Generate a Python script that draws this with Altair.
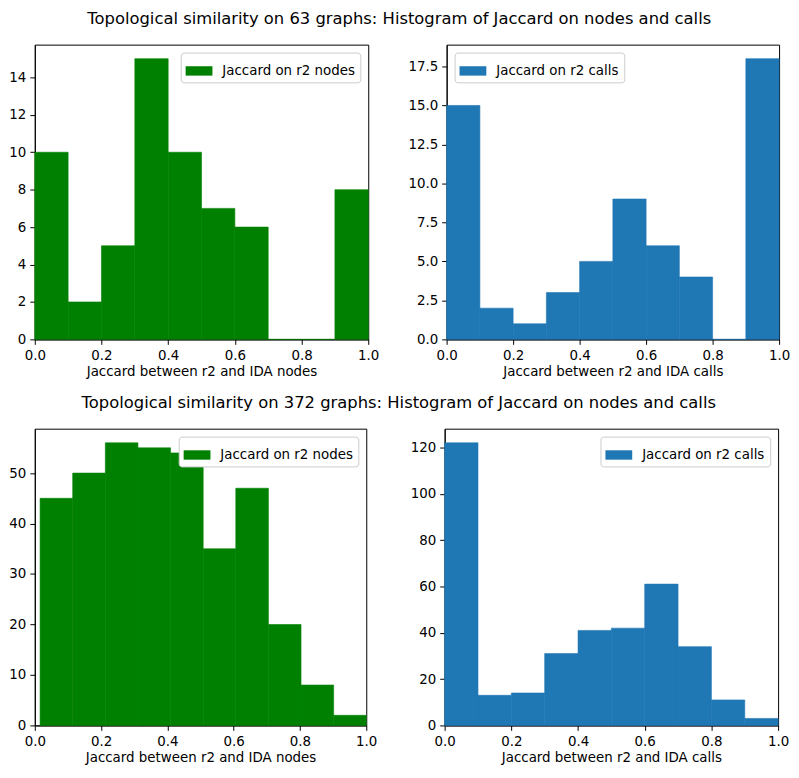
import altair as alt
import pandas as pd

FONT = "DejaVu Sans"

edges_top = [0.0, 0.1, 0.2, 0.3, 0.4, 0.5, 0.6, 0.7, 0.8, 0.9, 1.0]
edges_bl = [0.016, 0.1144, 0.2128, 0.3112, 0.4096, 0.508, 0.6064, 0.7048, 0.8032, 0.9016, 1.0]
edges_br = [0.0, 0.1, 0.2, 0.3, 0.4, 0.5, 0.6, 0.7, 0.8, 0.9, 1.0]

counts_nodes_63 = [10, 2, 5, 15, 10, 7, 6, 0, 0, 8]
counts_calls_63 = [15, 2, 1, 3, 5, 9, 6, 4, 0, 18]
counts_nodes_372 = [45, 50, 56, 55, 54, 35, 47, 20, 8, 2]
counts_calls_372 = [122, 13, 14, 31, 41, 42, 61, 34, 11, 3]

title_63 = "Topological similarity on 63 graphs: Histogram of Jaccard on nodes and calls"
title_372 = "Topological similarity on 372 graphs: Histogram of Jaccard on nodes and calls"

GREEN = "#008000"
BLUE = "#1f77b4"

FS = 13.5
TFS = 16.5


def frame(edges, counts, label):
    return pd.DataFrame({
        "lo": edges[:-1],
        "hi": edges[1:],
        "count": counts,
        "series": [label] * len(counts),
    })


def panel(edges, counts, label, color, xtitle, ymax, ystep, yfmt, legend_orient, w, h):
    df = frame(edges, counts, label)
    yticks = []
    v = 0.0
    while v <= ymax + 1e-9:
        yticks.append(round(v, 3))
        v += ystep
    return alt.Chart(df).mark_rect(stroke=color, strokeWidth=0.6).encode(
        x=alt.X("lo:Q", scale=alt.Scale(domain=[0, 1], nice=False, zero=False),
                axis=alt.Axis(title=xtitle, values=[0, 0.2, 0.4, 0.6, 0.8, 1.0], format=".1f",
                              grid=False, labelFlush=False)),
        x2="hi:Q",
        y=alt.Y("count:Q", scale=alt.Scale(domain=[0, ymax], nice=False),
                axis=alt.Axis(title=None, values=yticks, format=yfmt, grid=False)),
        y2=alt.datum(0),
        color=alt.Color("series:N", scale=alt.Scale(range=[color]),
                        legend=alt.Legend(
                            title=None, orient=legend_orient, offset=8,
                            symbolType="M-1,-0.35L1,-0.35L1,0.35L-1,0.35Z",
                            symbolSize=729, symbolStrokeWidth=0, symbolOpacity=1,
                            labelFontSize=FS, labelFont=FONT, labelColor="black",
                            fillColor="white", strokeColor="#cccccc", cornerRadius=3,
                            padding=5, labelOffset=10)),
    ).properties(width=w, height=h)


tl = panel(edges_top, counts_nodes_63, "Jaccard on r2 nodes", GREEN,
           "Jaccard between r2 and IDA nodes", 15.75, 2, "d", "top-right", 336, 297)
tr = panel(edges_top, counts_calls_63, "Jaccard on r2 calls", BLUE,
           "Jaccard between r2 and IDA calls", 18.9, 2.5, ".1f", "top-left", 335, 297)
bl = panel(edges_bl, counts_nodes_372, "Jaccard on r2 nodes", GREEN,
           "Jaccard between r2 and IDA nodes", 58.8, 10, "d", "top-right", 334, 299)
br = panel(edges_br, counts_calls_372, "Jaccard on r2 calls", BLUE,
           "Jaccard between r2 and IDA calls", 128.1, 20, "d", "top-right", 336, 299)

row1 = alt.hconcat(tl, tr, spacing=27).resolve_scale(color="independent").properties(
    title=alt.TitleParams(title_63, anchor="middle", fontSize=TFS, font=FONT,
                          fontWeight="normal", color="black", offset=17))
row2 = alt.hconcat(bl, br, spacing=31).resolve_scale(color="independent").properties(
    title=alt.TitleParams(title_372, anchor="middle", fontSize=TFS, font=FONT,
                          fontWeight="normal", color="black", offset=17))

chart = alt.vconcat(row1, row2, spacing=16).resolve_scale(color="independent").properties(
    background="white", padding=0
).configure_view(
    stroke="black", strokeWidth=1
).configure_axis(
    domainColor="black", tickColor="black", labelColor="black", titleColor="black",
    labelFont=FONT, titleFont=FONT, labelFontSize=FS, titleFontSize=FS,
    titleFontWeight="normal", tickSize=5, labelPadding=4, titlePadding=3
)

chart.save("out.html", embed_options={"renderer": "svg", "actions": False})
